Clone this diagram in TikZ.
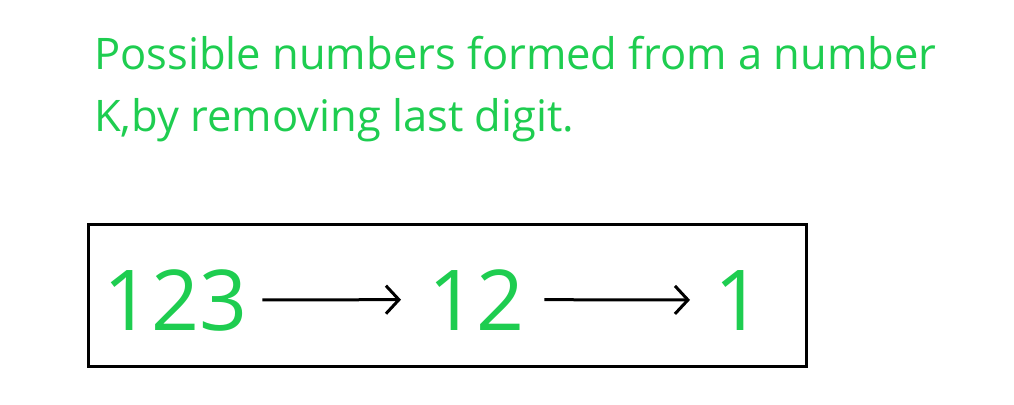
\documentclass[tikz,border=0pt]{standalone}
\usepackage{fontspec}
\setmainfont{Open Sans}
\usetikzlibrary{arrows.meta}
\definecolor{gfg}{RGB}{30,205,80}
\begin{document}
\begin{tikzpicture}[x=1pt,y=-1pt,
  title/.style={anchor=base west, inner sep=0pt, text=gfg, font=\fontsize{43.5}{52}\selectfont},
  num/.style={anchor=base west, inner sep=0pt, text=gfg, font=\fontsize{84}{96}\selectfont},
  conn/.style={line width=3pt, -{Straight Barb[length=13pt,width=28pt,line width=3pt]}}]
\useasboundingbox (0,0) rectangle (1014,404);
\node[title] (t1) at (94,70) {Possible numbers formed from a number};
\node[title] (t2) at (94,131) {K,by removing last digit.};
\node[draw, line width=3pt, minimum width=718pt, minimum height=142pt, anchor=north west, inner sep=0pt] (box) at (87,223) {};
\node[num] (n1) at (103,330) {123};
\node[num] (n2) at (428,330) {12};
\node[num] (n3) at (714,330) {1};
\draw[conn, shorten <=15pt, shorten >=27pt] (n1) -- (n2);
\draw[conn, shorten <=20pt, shorten >=24pt] (n2) -- (n3);
\end{tikzpicture}
\end{document}
